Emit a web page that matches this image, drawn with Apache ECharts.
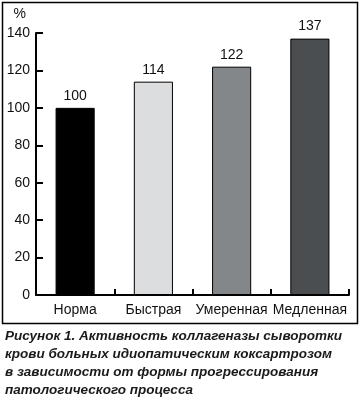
<!DOCTYPE html>
<html><head><meta charset="utf-8">
<script src="https://cdn.jsdelivr.net/npm/echarts@6/dist/echarts.min.js"></script>
<style>html,body{margin:0;padding:0;background:#fff}#c{width:360px;height:401px}</style>
</head><body><div id="c"></div>
<script>
const categories = ['Норма', 'Быстрая', 'Умеренная', 'Медленная'];
const values = [100, 114, 122, 137];
const barColors = ['#000000', '#dcdddf', '#84878a', '#4a4e50'];
const yTicks = [0, 20, 40, 60, 80, 100, 120, 140];
const captionLines = [
  'Рисунок 1. Активность коллагеназы сыворотки',
  'крови больных идиопатическим коксартрозом',
  'в зависимости от формы прогрессирования',
  'патологического процесса'
];

const chart = echarts.init(document.getElementById('c'));
const font = 'Liberation Sans, Arial, sans-serif';
chart.setOption({
  animation: false,
  grid: { left: 36, right: 11, top: 33, bottom: 106, containLabel: false },
  xAxis: {
    type: 'category', data: categories,
    axisLine: { lineStyle: { color: '#000', width: 2 } },
    axisTick: { show: true, inside: true, length: 6, lineStyle: { color: '#000', width: 2 }, alignWithLabel: false },
    axisLabel: { color: '#111', fontSize: 14, fontFamily: font, margin: 8, interval: 0 }
  },
  yAxis: {
    type: 'value', min: 0, max: 140, interval: 20,
    name: '%', nameLocation: 'end', nameGap: 12,
    nameTextStyle: { color: '#111', fontSize: 14, fontFamily: font, align: 'right', padding: [0, 10, 0, 0] },
    axisLine: { show: true, lineStyle: { color: '#000', width: 2 } },
    axisTick: { show: true, inside: true, length: 7, lineStyle: { color: '#000', width: 2 } },
    splitLine: { show: false },
    axisLabel: { color: '#111', fontSize: 14, fontFamily: font, margin: 6,
      formatter: v => yTicks.includes(v) ? String(v) : '' }
  },
  series: [{
    type: 'bar', barWidth: '50%',
    data: values.map((v, i) => ({ value: v, itemStyle: { color: barColors[i] } })),
    itemStyle: { borderColor: '#000', borderWidth: 1 },
    label: { show: true, position: 'top', distance: 5, color: '#111', fontSize: 14, fontFamily: font }
  }],
  graphic: [
    { type: 'rect', shape: { x: 2.5, y: 2.5, width: 355, height: 321 },
      style: { fill: null, stroke: '#000', lineWidth: 1.5 }, silent: true },
    ...captionLines.map((t, i) => ({
      type: 'text', left: 5, top: 329 + i * 18,
      style: { text: t, fill: '#1a1a1a', font: 'italic bold 13.5px ' + font }
    }))
  ]
});
</script></body></html>
